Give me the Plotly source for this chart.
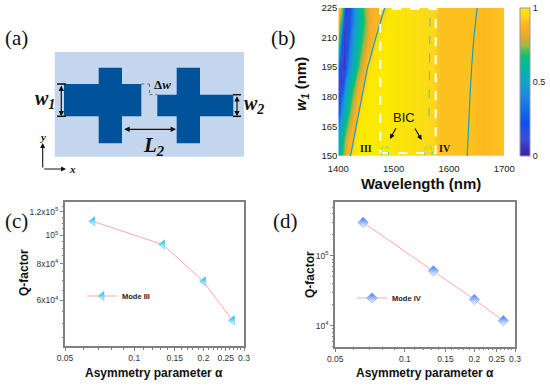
import plotly.graph_objects as go

W, H = 550, 385

# ---------- data ----------
alpha = [0.066, 0.133, 0.2, 0.267]
q_mode3 = [111500, 93000, 69600, 51300]
q_mode4 = [300000, 61000, 23800, 11800]

wavelength = [1400, 1405, 1410, 1415, 1420, 1425, 1430, 1435, 1440, 1445, 1450, 1455, 1460,
              1465, 1470, 1475, 1480, 1485, 1490, 1500, 1530, 1570, 1585, 1640, 1660, 1700]
w1 = [150, 157.5, 165, 172.5, 180, 187.5, 195, 202.5, 210, 217.5, 225]
tail = [.99, .975, .955, .91, .91, .89, .92]
transmission = [
    [.56, .66, .78, .87, .89, .98, 1, 1, 1, 1, 1, 1, 1, 1, 1, 1, 1, 1, 1] + tail,
    [.50, .60, .72, .83, .88, .89, .98, 1, 1, 1, 1, 1, 1, 1, 1, 1, 1, 1, 1] + tail,
    [.42, .52, .62, .70, .80, .87, .89, .98, 1, 1, 1, 1, 1, 1, 1, 1, 1, 1, 1] + tail,
    [.20, .44, .54, .62, .70, .80, .87, .89, .98, 1, 1, 1, 1, 1, 1, 1, 1, 1, 1] + tail,
    [.05, .30, .46, .55, .63, .72, .82, .87, .89, .98, 1, 1, 1, 1, 1, 1, 1, 1, 1] + tail,
    [.12, .05, .32, .46, .55, .63, .72, .80, .87, .89, .97, 1, 1, 1, 1, 1, 1, 1, 1] + tail,
    [.30, .10, .05, .30, .44, .52, .60, .68, .76, .85, .89, .97, 1, 1, 1, 1, 1, 1, 1] + tail,
    [.60, .20, .05, .22, .38, .48, .55, .63, .70, .78, .85, .88, .89, .99, 1, 1, 1, 1, 1] + tail,
    [.80, .35, .05, .12, .30, .44, .52, .58, .65, .72, .78, .85, .88, .89, .98, 1, 1, 1, 1] + tail,
    [.88, .60, .12, .08, .25, .38, .48, .55, .62, .68, .75, .82, .86, .88, .89, .89, .98, 1, 1] + tail,
    [.93, .86, .35, .05, .20, .35, .48, .55, .62, .70, .78, .83, .86, .88, .88, .88, .89, .92, .99] + tail,
]
mode3_lambda = [1422, 1432, 1442, 1453, 1468, 1484]
mode4_lambda = [1633, 1635, 1638, 1641, 1645, 1651]
mode_w = [150, 165, 180, 195, 210, 225]
faint_lambda = [1564, 1566]
faint_w = [170, 225]

parula = [[0, "#3a1fa8"], [.12, "#3a50d8"], [.22, "#0e50f0"], [.4, "#1f85e0"], [.5, "#10a5c8"],
          [.6, "#00b8a0"], [.68, "#14c070"], [.75, "#a4b845"], [.8, "#d9ab2c"], [.85, "#f6ac2b"],
          [.9, "#fdbb1f"], [.95, "#fbd81f"], [1, "#fbe900"]]

x_ticks = [0.05, 0.1, 0.15, 0.2, 0.25, 0.3]
x_labels = ["0.05", "0.1", "0.15", "0.2", "0.25", "0.3"]
x_minor = [0.06, 0.07, 0.08, 0.09, 0.11, 0.12, 0.13, 0.14, 0.16, 0.17, 0.18, 0.19, 0.21, 0.22, 0.23,
           0.24, 0.26, 0.27, 0.28, 0.29]
c_ticks = [60000, 80000, 100000, 120000]
c_labels = ["6x10<sup>4</sup>", "8x10<sup>4</sup>", "10<sup>5</sup>", "1.2x10<sup>5</sup>"]
c_minor = [45000, 50000, 55000, 65000, 70000, 75000, 85000, 90000, 95000, 105000, 110000, 115000, 125000]
d_ticks = [10000, 100000]
d_labels = ["10<sup>4</sup>", "10<sup>5</sup>"]
d_minor = [5000, 6000, 7000, 8000, 9000, 20000, 30000, 40000, 50000, 60000, 70000, 80000, 90000,
           200000, 300000, 400000, 500000]

# ---------- helpers ----------
SANS = "Liberation Sans"
SERIF = "Liberation Serif"
px = lambda x: x / W
py = lambda y: 1 - y / H
shapes, annos = [], []


def rect(x0, y0, x1, y1, color):
    shapes.append(dict(type="rect", xref="paper", yref="paper", x0=px(x0), x1=px(x1), y0=py(y0), y1=py(y1),
                       fillcolor=color, line_width=0, layer="below"))


def seg(x0, y0, x1, y1, color="#111", width=1.5, dash="solid"):
    shapes.append(dict(type="line", xref="paper", yref="paper", x0=px(x0), x1=px(x1), y0=py(y0), y1=py(y1),
                       line=dict(color=color, width=width, dash=dash)))


def text(x, y, s, size, family=SERIF, color="#111", angle=0):
    annos.append(dict(xref="paper", yref="paper", x=px(x), y=py(y), text=s, showarrow=False, textangle=angle,
                      xanchor="center", yanchor="middle", font=dict(size=size, family=family, color=color)))


def arrow(x0, y0, x1, y1, both=False, width=1.2, head=2, size=0.9):
    annos.append(dict(xref="paper", yref="paper", x=px(x1), y=py(y1), ax=x0 - x1, ay=y0 - y1, axref="pixel",
                      ayref="pixel", text="", showarrow=True, arrowside="end+start" if both else "end",
                      arrowhead=head, startarrowhead=head, arrowsize=size, startarrowsize=size, arrowwidth=width,
                      arrowcolor="#111"))


# ---------- figure ----------
fig = go.Figure()
fig.add_trace(go.Heatmap(x=wavelength, y=w1, z=transmission, zmin=0, zmax=1, zsmooth="best", colorscale=parula,
                         xaxis="x", yaxis="y", showlegend=False,
                         colorbar=dict(x=px(520), xanchor="left", xpad=0, y=py(156), yanchor="bottom", ypad=0,
                                       len=148 / H, lenmode="fraction", thickness=10, thicknessmode="pixels",
                                       tickvals=[0, .5, 1], ticktext=["0", "0.5", "1"], ticks="",
                                       outlinecolor="#999", outlinewidth=1, ticklabelposition="outside",
                                       tickfont=dict(size=9, family=SANS, color="#222"))))
for lam in (mode3_lambda, mode4_lambda):
    fig.add_trace(go.Scatter(x=lam, y=mode_w, mode="lines", line=dict(color="#1f9db5", width=1.2), xaxis="x",
                             yaxis="y", showlegend=False))
fig.add_trace(go.Scatter(x=faint_lambda, y=faint_w, mode="lines", line=dict(color="#8fae70", width=1, dash="dash"),
                         xaxis="x", yaxis="y", showlegend=False))

fig.add_trace(go.Scatter(x=alpha, y=q_mode3, name="Mode III", mode="lines+markers", xaxis="x2", yaxis="y2",
                         line=dict(color="#ffa8a8", width=1),
                         marker=dict(symbol="triangle-left", size=8, color="#00aef5",
                                     gradient=dict(type="vertical", color="#ffffff"),
                                     line=dict(color="#5fcff2", width=0.7)), legend="legend"))
fig.add_trace(go.Scatter(x=alpha, y=q_mode4, name="Mode IV", mode="lines+markers", xaxis="x3", yaxis="y3",
                         line=dict(color="#ffa8a8", width=1),
                         marker=dict(symbol="diamond", size=8, color="#3a72ff",
                                     gradient=dict(type="vertical", color="#ffffff"),
                                     line=dict(color="#7fa4f5", width=0.7)), legend="legend2"))

# --- panel (a) schematic
rect(54.7, 52, 244, 156.7, "#c3d6ee")
rect(98.7, 67.7, 122, 143.3, "#00529b")
rect(64, 84, 141.3, 116.3, "#00529b")
rect(176.7, 67.7, 200, 143.3, "#00529b")
rect(157.3, 94.7, 233.3, 116.3, "#00529b")
arrow(61.3, 84, 61.3, 116.3, both=True)
seg(57, 84, 66, 84)
seg(57, 116.3, 66, 116.3)
arrow(237, 94.7, 237, 116.3, both=True)
seg(233, 94.7, 241, 94.7)
seg(233, 116.3, 241, 116.3)
arrow(122.7, 129.3, 176, 129.3, both=True)
seg(141.3, 84, 149.5, 84, color="#555", width=0.8, dash="dot")
seg(149.5, 84, 149.5, 94.7, color="#555", width=0.8, dash="dot")
seg(149.5, 94.7, 157.3, 94.7, color="#555", width=0.8, dash="dot")
arrow(42.7, 169, 42.7, 143, width=1.1)
arrow(42.7, 169, 66, 169, width=1.1)
text(45, 100, "<b><i>w<sub>1</sub></i></b>", 20)
text(254, 105, "<b><i>w<sub>2</sub></i></b>", 20)
text(153, 146, "<b><i>L<sub>2</sub></i></b>", 21)
text(162, 85, "<b>Δ<i>w</i></b>", 13)
text(42, 137, "<b><i>y</i></b>", 11)
text(72, 169, "<b><i>x</i></b>", 11)
text(16, 38, "(a)", 21)
text(283, 38, "(b)", 21)
text(16, 221, "(c)", 21)
text(285, 221, "(d)", 21)

# --- panel (b) decorations
shapes.append(dict(type="rect", xref="x", yref="y", x0=1476, x1=1576, y0=151.5, y1=224.5,
                   line=dict(color="white", width=2, dash="dash"), layer="above"))
for c in (1484, 1563):
    shapes.append(dict(type="circle", xref="x", yref="y", x0=c - 7, x1=c + 7, y0=149, y1=155,
                       line=dict(color="#3cc4d6", width=1, dash="dot"), layer="above"))
text(365.7, 148, "<b>III</b>", 10)
text(445, 148, "<b>IV</b>", 10)
text(404, 117, "BIC", 13, family=SANS)
arrow(396.7, 126.7, 390, 139, width=1.1)
arrow(414, 127, 421.7, 140, width=1.1)
text(421, 183, "<b>Wavelength (nm)</b>", 15, family=SANS)
text(302, 84, "<b><i>w<sub>1</sub></i> (nm)</b>", 15, family=SANS, angle=-90)

# --- panel (c), (d) titles
text(154, 373, "<b>Asymmetry parameter α</b>", 12, family=SANS)
text(425, 373, "<b>Asymmetry parameter α</b>", 12, family=SANS)
text(24, 273, "<b>Q-factor</b>", 12, family=SANS, angle=-90)
text(310, 275, "<b>Q-factor</b>", 12, family=SANS, angle=-90)

tick_font = dict(size=8.5, family=SANS, color="#333")
frame = dict(showline=True, mirror=True, linecolor="#808080", linewidth=2, showgrid=False, zeroline=False,
             ticks="outside", ticklen=3, tickcolor="#808080", tickfont=tick_font)


def x_log(dom):
    return dict(type="log", domain=[px(dom[0]), px(dom[1])], range=[-1.30103, -0.52288], tickvals=x_ticks,
                ticktext=x_labels, minor=dict(tickvals=x_minor, ticks="outside", ticklen=1.5, tickcolor="#808080"),
                **frame)


fig.update_layout(
    width=W, height=H, margin=dict(l=0, r=0, t=0, b=0, autoexpand=False), paper_bgcolor="white", plot_bgcolor="white",
    shapes=shapes, annotations=annos,
    xaxis=dict(domain=[px(338.3), px(504.3)], range=[1400, 1700], tickvals=[1400, 1500, 1600, 1700], ticks="outside",
               ticklen=4, tickcolor="rgba(0,0,0,0)", showgrid=False, zeroline=False, showline=False,
               tickfont=dict(size=9.5, family=SANS, color="#222"), anchor="y"),
    yaxis=dict(domain=[py(156), py(7.7)], range=[150, 225], tickvals=[150, 165, 180, 195, 210, 225], ticks="",
               showgrid=False, zeroline=False, showline=False, tickfont=dict(size=9.5, family=SANS, color="#222"),
               anchor="x"),
    xaxis2=dict(anchor="y2", **x_log((65, 244))),
    yaxis2=dict(type="log", anchor="x2", domain=[py(346), py(202)], range=[4.6232, 5.1129], tickvals=c_ticks,
                ticktext=c_labels, minor=dict(tickvals=c_minor, ticks="outside", ticklen=1.5, tickcolor="#808080"),
                **frame),
    xaxis3=dict(anchor="y3", **x_log((335.3, 515))),
    yaxis3=dict(type="log", anchor="x3", domain=[py(346.7), py(202)], range=[3.699, 5.771], tickvals=d_ticks,
                ticktext=d_labels, minor=dict(tickvals=d_minor, ticks="outside", ticklen=1.5, tickcolor="#808080"),
                **frame),
    legend=dict(x=px(82), y=py(296), xanchor="left", yanchor="middle", bgcolor="rgba(0,0,0,0)",
                font=dict(size=7.5, family=SANS, color="#222", weight="bold"), itemwidth=30),
    legend2=dict(x=px(352), y=py(298), xanchor="left", yanchor="middle", bgcolor="rgba(0,0,0,0)",
                 font=dict(size=7.5, family=SANS, color="#222", weight="bold"), itemwidth=30),
)
fig.write_html("out.html", config=dict(displayModeBar=False),
               post_script="document.documentElement.style.overflow='hidden';document.body.style.margin='0';document.body.style.overflow='hidden';")
